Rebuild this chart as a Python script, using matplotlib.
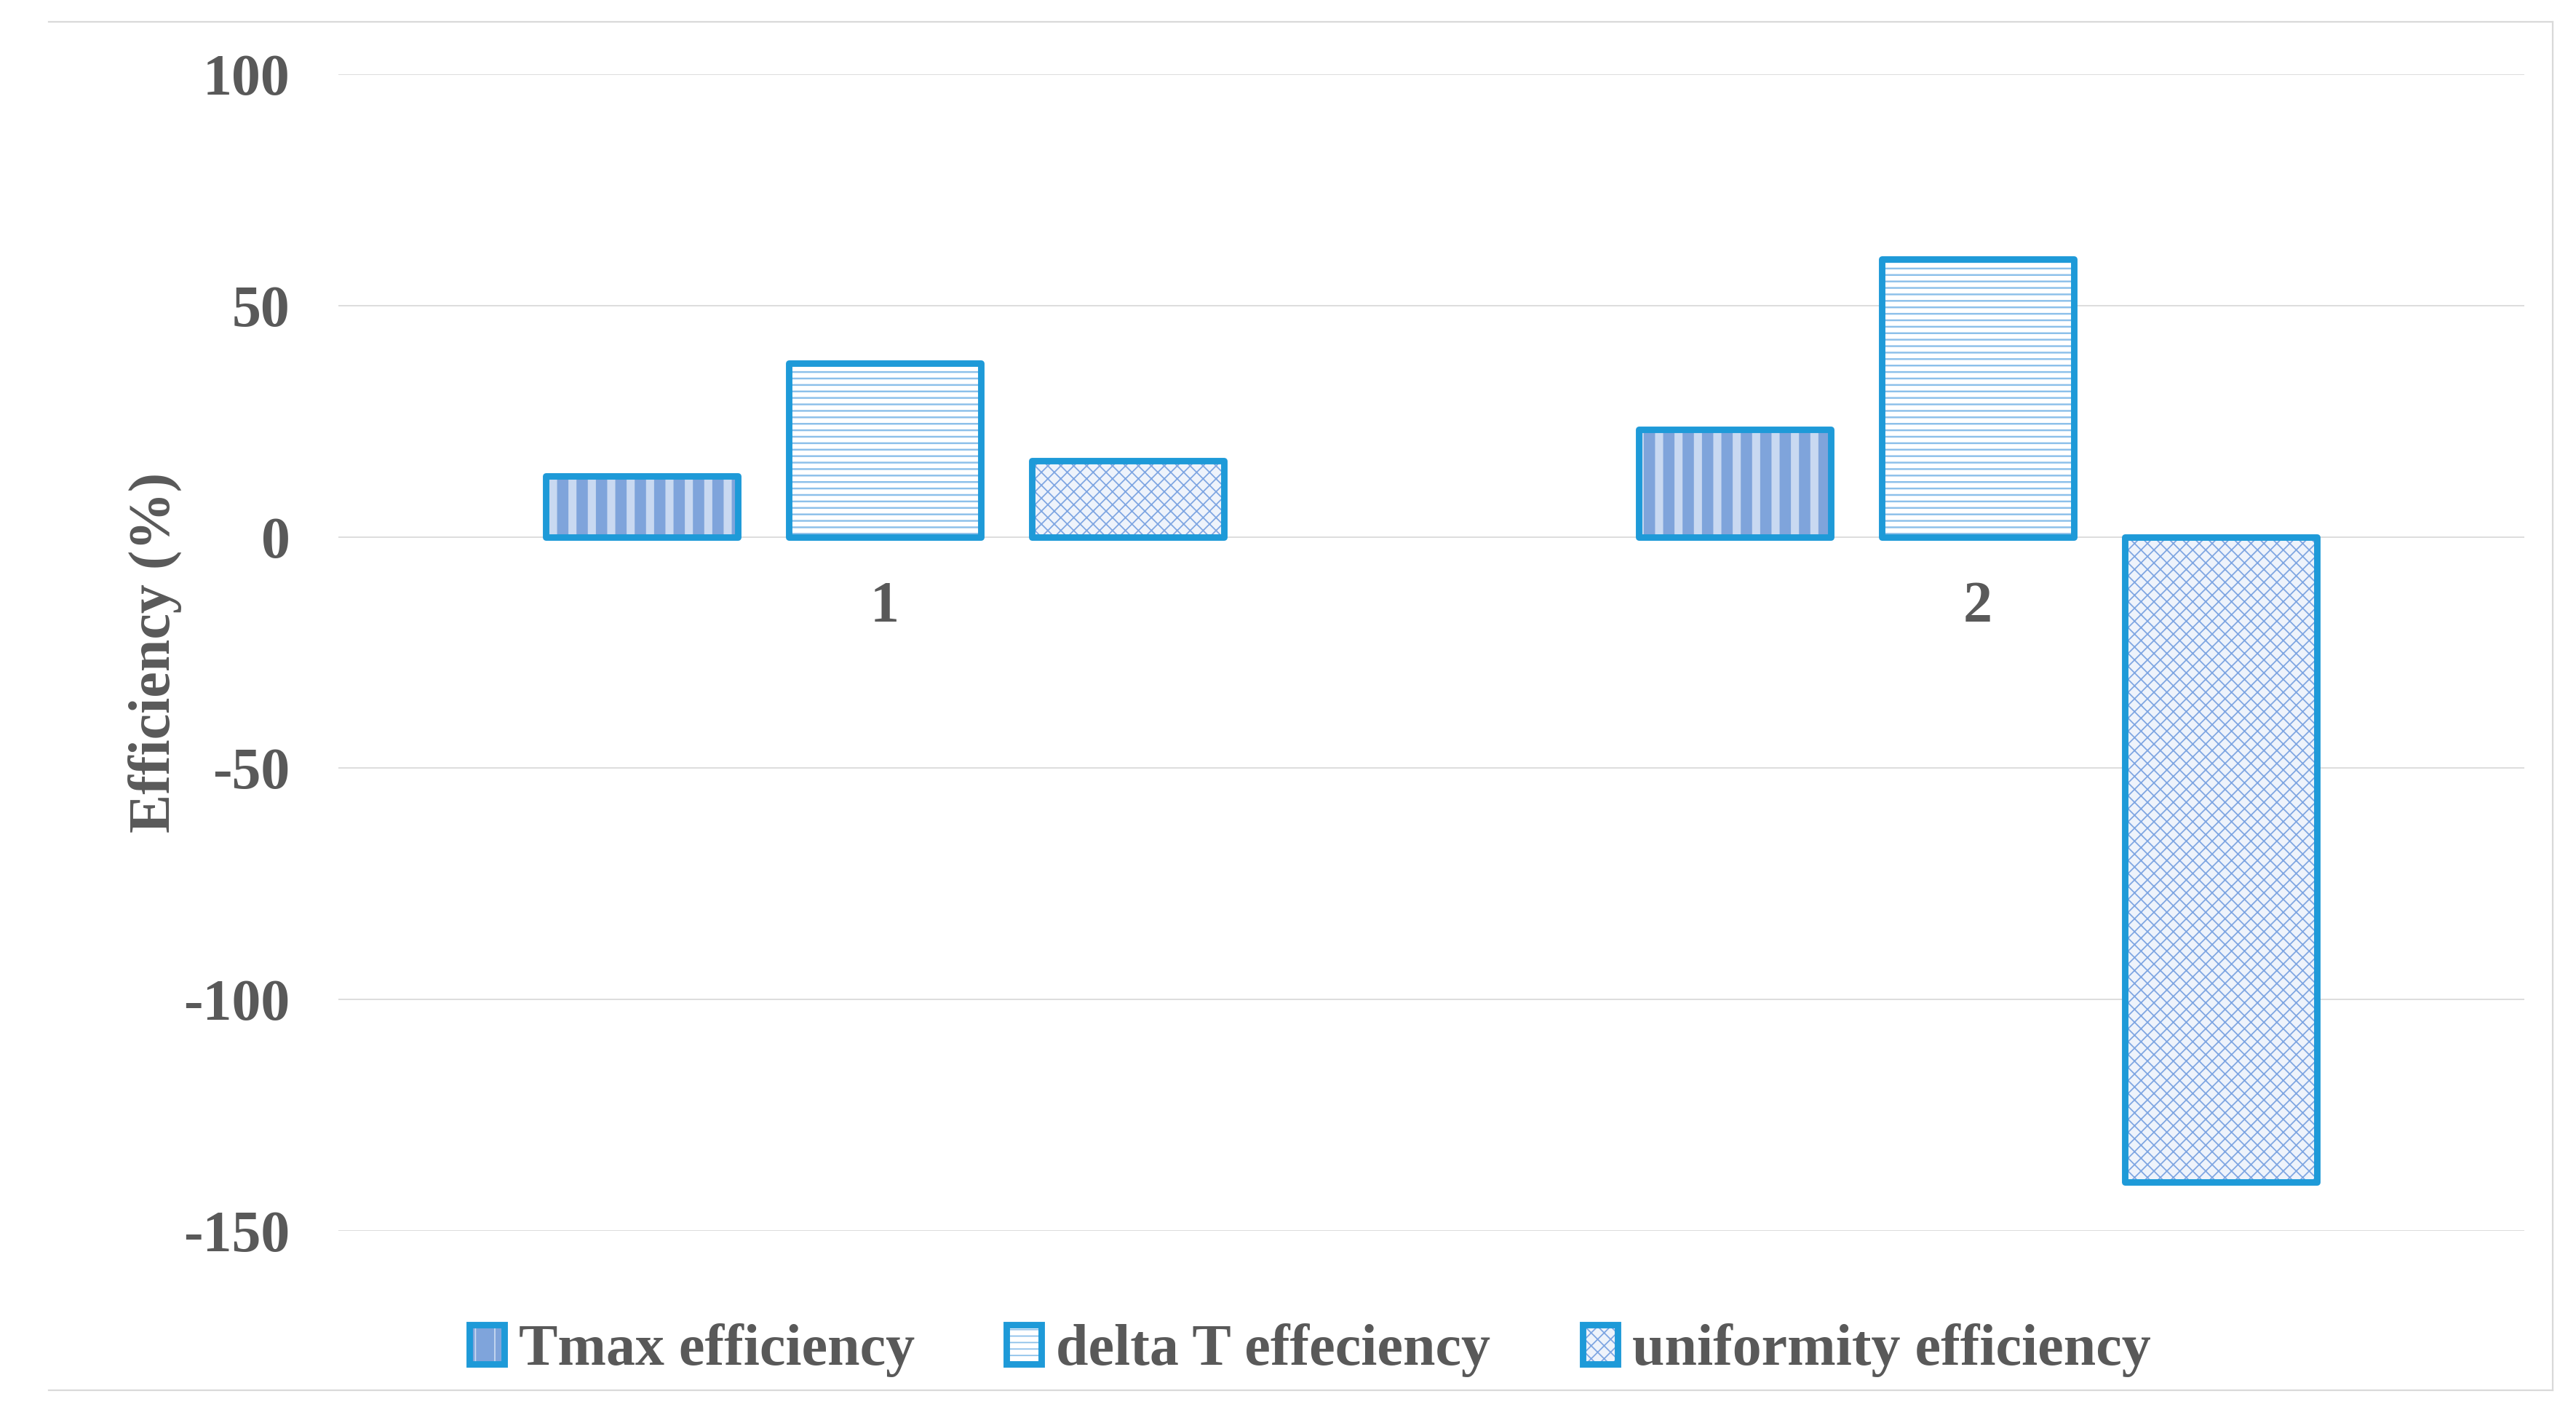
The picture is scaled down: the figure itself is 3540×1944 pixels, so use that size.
"""Grouped bar chart of efficiency (%) for two cases, Excel-style hatched bars."""
import matplotlib
matplotlib.use('Agg')
import matplotlib.pyplot as plt
from matplotlib.lines import Line2D
from matplotlib.patches import Rectangle
from matplotlib.legend_handler import HandlerTuple
import numpy


##########################
##  Data                ##
##########################
CATEGORIES = ['1', '2']
SERIES = ['Tmax efficiency', 'delta T effeciency', 'uniformity efficiency']
TMAX_EFF = [13.2, 23.2]
DELTA_T_EFF = [37.5, 60.0]
UNIFORMITY_EFF = [16.4, -139.5]
Y_TICKS = [100, 50, 0, -50, -100, -150]

##########################
##  Style               ##
##########################
TEXT_COLOR = '#595959'
GRID_COLOR = '#D9D9D9'
EDGE_COLOR = '#1E9AD8'
FONT = 'Liberation Serif'
FS = 36

# (face colour, hatch, hatch colour, hatch linewidth)
STYLES = [
    ('#7FA4DB', '|', '#C9D9F1', 5.0),
    ('#FFFFFF', '---', '#8CC0EA', 1.1),
    ('#EEF3FB', 'xxx', '#7FA6E2', 0.8),
]

plt.rcParams['font.family'] = FONT
plt.rcParams['font.weight'] = 'bold'
plt.rcParams['axes.labelweight'] = 'bold'
plt.rcParams['axes.unicode_minus'] = False

fig = plt.figure(figsize=(22.125, 12.15), dpi=160)
ax = fig.add_axes((0.1314, 0.1301, 0.9799 - 0.1314, 0.9475 - 0.1301))

x = numpy.arange(len(CATEGORIES))
width = 0.176
step = 0.2225
values = [TMAX_EFF, DELTA_T_EFF, UNIFORMITY_EFF]
handles = []
for i, (name, vals) in enumerate(zip(SERIES, values)):
    face, hatch, hcol, hlw = STYLES[i]
    pos = x + (i - 1) * step
    plt.rcParams['hatch.linewidth'] = hlw
    fill = ax.bar(pos, vals, width, color=face, hatch=hatch, edgecolor=hcol,
                  linewidth=0, zorder=2)
    for p in fill:
        if hasattr(p, 'set_hatch_linewidth'):
            p.set_hatch_linewidth(hlw)
    ax.bar(pos, vals, width, fill=False, edgecolor=EDGE_COLOR, linewidth=4.0,
           joinstyle='round', zorder=3)
    hp = Rectangle((0, 0), 1, 1, facecolor=face, hatch=hatch, edgecolor=hcol,
                   linewidth=0)
    if hasattr(hp, 'set_hatch_linewidth'):
        hp.set_hatch_linewidth(hlw)
    ep = Rectangle((0, 0), 1, 1, fill=False, edgecolor=EDGE_COLOR,
                   linewidth=4.0, joinstyle='round')
    handles.append((hp, ep))

ax.set_xlim(-0.5, 1.5)
ax.set_ylim(-150, 100)
ax.set_yticks(Y_TICKS)
ax.set_xticks(x)
ax.set_xticklabels(CATEGORIES)
ax.spines['bottom'].set_position(('data', 0))
for s in ax.spines.values():
    s.set_visible(False)
ax.tick_params(axis='y', length=0, pad=30, labelsize=FS, labelcolor=TEXT_COLOR)
ax.tick_params(axis='x', length=0, pad=27, labelsize=FS, labelcolor=TEXT_COLOR)
ax.grid(axis='y', color=GRID_COLOR, linewidth=0.8, zorder=0)
ax.set_axisbelow(True)
ax.set_ylabel('Efficiency (%)', fontsize=FS, color=TEXT_COLOR, labelpad=1)

fig.legend(handles, SERIES, handler_map={tuple: HandlerTuple(ndivide=1, pad=0)},
           loc='center', bbox_to_anchor=(0.5085, 0.0458), ncol=3, frameon=False,
           fontsize=FS, labelcolor=TEXT_COLOR, handlelength=0.6,
           handleheight=0.65, handletextpad=0.25, columnspacing=1.58)

# chart-area border (top, right, bottom)
for xs, ys in [((0.019, 0.991), (0.9845, 0.9845)),
               ((0.991, 0.991), (0.9845, 0.0175)),
               ((0.019, 0.991), (0.0175, 0.0175))]:
    fig.add_artist(Line2D(xs, ys, color=GRID_COLOR, linewidth=1.0))

fig.savefig('out.png', dpi=160, facecolor='white')
